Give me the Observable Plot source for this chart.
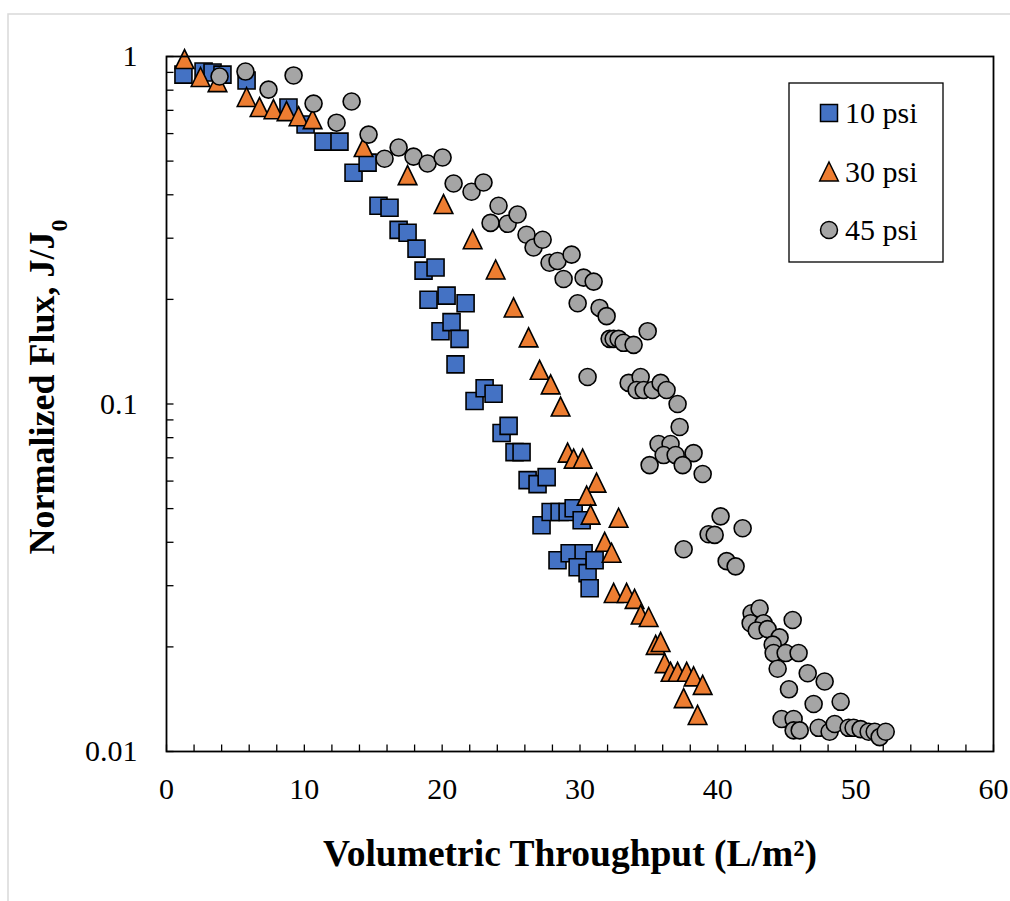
<!DOCTYPE html>
<html>
<head>
<meta charset="utf-8">
<script src="https://cdn.jsdelivr.net/npm/d3@7"></script>
<script src="https://cdn.jsdelivr.net/npm/@observablehq/plot@0.6"></script>
<style>
  html, body { margin: 0; padding: 0; background: #fff; }
  #chart { position: relative; width: 1010px; height: 901px; overflow: hidden; }
  #chart svg { position: absolute; left: 0; top: 0; }
  #chart svg text { font-family: 'Liberation Serif', 'Times New Roman', serif !important; }
</style>
</head>
<body>
<div id="chart"></div>
<script>
// ---- Data ----
const seriesNames = ["10 psi", "30 psi", "45 psi"];
const seriesColors = ["#4472C4", "#ED7D31", "#A5A5A5"];

const x10 = [1.23,2.69,3.34,4.06,5.81,8.85,10.09,11.39,12.55,13.57,14.59,15.38,16.18,16.84,17.49,18.14,18.65,19.52,19.01,20.32,21.70,19.88,20.68,21.26,20.97,22.35,23.08,23.73,24.31,24.82,25.25,25.76,26.20,26.92,27.58,27.21,27.87,28.52,29.10,29.54,30.12,28.37,29.25,30.26,29.83,30.55,31.06,30.70];
const y10 = [0.887,0.905,0.899,0.887,0.853,0.713,0.637,0.569,0.569,0.463,0.495,0.372,0.367,0.317,0.311,0.280,0.242,0.247,0.1995,0.205,0.195,0.162,0.172,0.154,0.130,0.102,0.111,0.107,0.0825,0.0865,0.0727,0.0727,0.0604,0.0588,0.0616,0.0448,0.0489,0.0489,0.0489,0.0501,0.0463,0.0355,0.0372,0.0372,0.0339,0.0326,0.0355,0.0295];

const x30 = [1.31,2.47,3.70,5.81,6.75,7.76,8.71,9.58,10.60,14.30,17.49,20.10,22.21,23.88,25.18,26.27,27.07,27.87,28.59,29.10,29.54,30.19,31.20,30.48,30.77,32.80,31.79,32.29,32.44,33.38,33.96,34.40,34.98,35.49,35.85,36.14,36.57,37.08,37.74,38.24,38.90,37.52,38.53];
const y30 = [0.980,0.870,0.841,0.762,0.713,0.703,0.694,0.671,0.658,0.547,0.454,0.375,0.297,0.243,0.189,0.155,0.125,0.1135,0.098,0.0722,0.0694,0.0694,0.0592,0.0543,0.0479,0.0469,0.0400,0.0372,0.0285,0.0285,0.0274,0.0247,0.0243,0.0202,0.0206,0.0179,0.0169,0.0169,0.0169,0.0164,0.0155,0.0142,0.0127];

const x45 = [3.85,5.73,7.40,9.22,10.67,12.34,13.43,14.66,15.82,16.84,17.92,18.94,20.03,20.83,22.13,23.00,23.51,24.09,24.75,25.47,26.12,26.63,27.29,27.79,28.37,28.81,29.39,29.83,30.26,30.99,31.42,31.93,32.15,32.44,32.80,33.16,33.89,34.91,30.55,33.53,34.40,34.11,34.62,35.27,35.85,36.28,37.08,37.23,35.70,36.57,36.07,36.94,38.24,35.05,37.45,38.90,37.52,39.33,39.77,40.20,41.80,40.64,41.29,42.45,43.03,42.38,43.32,42.82,43.61,44.48,43.98,44.05,44.92,45.86,45.43,44.34,46.52,47.75,45.16,46.95,48.91,44.63,45.50,45.50,45.94,47.31,48.11,48.48,49.49,49.85,50.36,50.94,51.38,51.74,52.18];
const y45 = [0.876,0.905,0.803,0.882,0.732,0.645,0.742,0.596,0.508,0.547,0.515,0.492,0.512,0.431,0.408,0.434,0.332,0.372,0.330,0.351,0.307,0.282,0.297,0.255,0.258,0.229,0.269,0.195,0.231,0.225,0.189,0.179,0.154,0.154,0.154,0.150,0.148,0.162,0.1196,0.115,0.1196,0.1097,0.1097,0.1097,0.115,0.1097,0.100,0.0859,0.0767,0.0767,0.0713,0.0713,0.0722,0.0667,0.0667,0.0629,0.0382,0.0422,0.0420,0.0475,0.0439,0.0353,0.0341,0.0250,0.0258,0.0234,0.0234,0.0223,0.0225,0.0213,0.0203,0.0192,0.0192,0.0192,0.0239,0.0173,0.0168,0.0159,0.0151,0.0137,0.0139,0.0124,0.0124,0.0115,0.0115,0.0117,0.0114,0.0120,0.0117,0.0117,0.0116,0.0114,0.0114,0.0110,0.0114];

const xTickLabels = [0, 10, 20, 30, 40, 50, 60];
const yTickLabels = [1, 0.1, 0.01];
const xTitle = "Volumetric Throughput (L/m²)";
const yTitle = "Normalized Flux, J/J0";

// ---- Build table ----
const seriesX = [x10, x30, x45], seriesY = [y10, y30, y45];
const table = [];
seriesNames.forEach((name, s) => seriesX[s].forEach((x, i) => table.push({series: name, x, y: seriesY[s][i]})));

// ---- Custom symbols ----
const symSquare = {draw(c) { c.rect(-8.5, -8.5, 17, 17); }};
const symTriangle = {draw(c) { c.moveTo(0, -10); c.lineTo(9.3, 9); c.lineTo(-9.3, 9); c.closePath(); }};
const symCircle = {draw(c) { c.moveTo(8.5, 0); c.arc(0, 0, 8.5, 0, 2 * Math.PI); }};
const symbols = [symSquare, symTriangle, symCircle];
const tickUp = {draw(c) { c.moveTo(0, 0); c.lineTo(0, -7); }};
const tickRight = {draw(c) { c.moveTo(0, 0); c.lineTo(7, 0); }};

const xMinor = d3.range(0, 61, 2);
const yMinor = [];
[0.01, 0.1].forEach(b => { for (let k = 1; k <= 9; k++) yMinor.push(+(b * k).toPrecision(3)); });
yMinor.push(1);

const font = "'Liberation Serif', 'Times New Roman', serif";

const plot = Plot.plot({
  width: 1010,
  height: 901,
  marginLeft: 166,
  marginRight: 17,
  marginTop: 56,
  marginBottom: 150,
  style: {fontFamily: font, background: "transparent", overflow: "visible"},
  x: {domain: [0, 60], axis: null},
  y: {type: "log", domain: [0.01, 1], axis: null},
  marks: [
    Plot.dot(xMinor, {x: d => d, y: () => 0.01, symbol: tickUp, r: 1, stroke: "black", strokeWidth: 1.3, fill: "none"}),
    Plot.dot(yMinor, {x: () => 0, y: d => d, symbol: tickRight, r: 1, stroke: "black", strokeWidth: 1.3, fill: "none"}),
    ...seriesNames.map((name, s) =>
      Plot.dot(table.filter(d => d.series === name), {
        x: "x", y: "y", symbol: symbols[s], r: 8.5,
        fill: seriesColors[s], stroke: "black", strokeWidth: 1.6
      })
    ),
    Plot.frame({stroke: "black", strokeWidth: 1.8}),
    Plot.text(xTickLabels, {x: d => d, y: () => 0.01, text: d => String(d), dy: 38, fontSize: 30, fill: "black"}),
    Plot.text(yTickLabels, {x: () => 0, y: d => d, text: d => String(d), dx: -29, textAnchor: "end", fontSize: 30, fill: "black"}),
    Plot.text([xTitle], {frameAnchor: "bottom", text: d => d, dy: 114, dx: -10, fontSize: 37.5, fontWeight: "bold", fill: "black"}),
    Plot.text([yTitle], {frameAnchor: "left", textAnchor: "middle", text: d => d, dx: -124, dy: -17, rotate: -90, fontSize: 36, fontWeight: "bold", fill: "black"})
  ]
});

document.getElementById("chart").appendChild(plot);

const svg = d3.select(plot);

// subscript 0 in y title
svg.selectAll("text").each(function() {
  const t = d3.select(this);
  if (t.text() === yTitle) {
    t.text("Normalized Flux, J/J");
    t.append("tspan").attr("baseline-shift", "sub").attr("font-size", "24px").text("0");
  }
});

// outer light-gray border (left/top visible)
svg.insert("rect", ":first-child")
  .attr("x", 8).attr("y", 14).attr("width", 1040).attr("height", 920)
  .attr("fill", "none").attr("stroke", "#d9d9d9").attr("stroke-width", 1.5);

// legend
const lg = svg.append("g");
lg.append("rect").attr("x", 789).attr("y", 83).attr("width", 154).attr("height", 179)
  .attr("fill", "white").attr("stroke", "black").attr("stroke-width", 1.3);
const legendY = [113, 172, 230];
seriesNames.forEach((name, s) => {
  lg.append("path")
    .attr("transform", `translate(829,${legendY[s]})`)
    .attr("d", d3.symbol(symbols[s])())
    .attr("fill", seriesColors[s]).attr("stroke", "black").attr("stroke-width", 1.5);
  lg.append("text").attr("x", 845).attr("y", legendY[s]).attr("dy", "0.34em")
    .attr("text-anchor", "start")
    .attr("font-size", 30).attr("fill", "black").text(name);
});

svg.selectAll("text").style("font-family", font);
</script>
</body>
</html>
